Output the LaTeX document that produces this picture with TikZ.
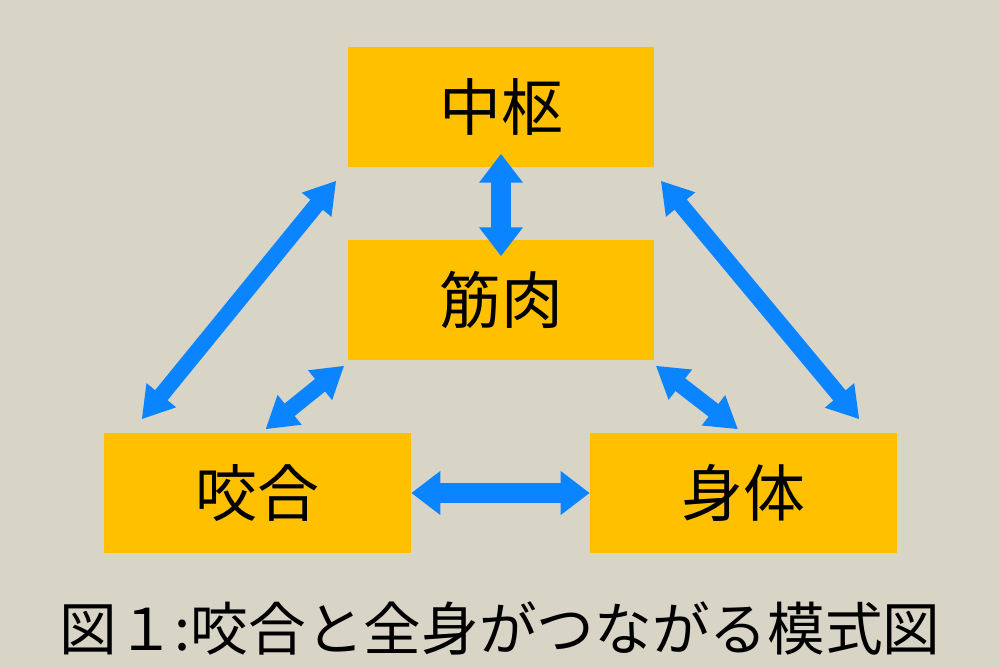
\documentclass[tikz,border=0pt]{standalone}
\usepackage{fontspec}
\newfontfamily\cjk{Noto Sans CJK JP}
\usetikzlibrary{arrows.meta}
\definecolor{bgcol}{HTML}{D8D4C6}
\definecolor{boxcol}{HTML}{FFC000}
\definecolor{arrowcol}{HTML}{0A84FF}
\tikzset{
	partbox/.style={fill=boxcol, minimum width=3.06cm, minimum height=1.2cm, inner sep=0pt,
		font=\cjk\fontsize{17.6}{20}\selectfont},
	bigarrow/.style={draw=arrowcol, line width=0.2cm, {Triangle[width=0.42cm,length=0.29cm]}-{Triangle[width=0.42cm,length=0.29cm]}},
	slimarrow/.style={draw=arrowcol, line width=0.16cm, {Triangle[width=0.36cm,length=0.31cm]}-{Triangle[width=0.36cm,length=0.31cm]}}
}
\begin{document}
\begin{tikzpicture}[x=0.01cm, y=-0.01cm]
			% Background
			\fill[bgcol] (0,0) rectangle (1000,667);
			\useasboundingbox (0,0) rectangle (1000,667);

			% Boxes
			\node[partbox] (zc) at (501,107) {中枢};
			\node[partbox] (kn) at (501,300) {筋肉};
			\node[partbox] (kg) at (257.5,493) {咬合};
			\node[partbox] (sh) at (743.5,493) {身体};

			% Arrows between the boxes
			\draw[bigarrow, shorten <=-0.14cm, shorten >=-0.17cm] (zc.south) -- (kn.north);
			\draw[bigarrow] (kg.east) -- (sh.west);
			\draw[slimarrow] ([shift={(-11,13)}]zc.south west) -- ([shift={(38,-13)}]kg.north west);
			\draw[slimarrow] ([shift={(6,13)}]zc.south east) -- ([shift={(-38,-13)}]sh.north east);
			\draw[slimarrow] ([shift={(-3,5)}]kn.south west) -- ([shift={(8,-3)}]kg.north);
			\draw[slimarrow] ([shift={(1,5)}]kn.south east) -- ([shift={(-5.5,-3)}]sh.north);

			% Caption
			\node[font=\cjk\fontsize{16.4}{20}\selectfont] (cap) at (500,628) {図１:咬合と全身がつながる模式図};
		\end{tikzpicture}
\end{document}
